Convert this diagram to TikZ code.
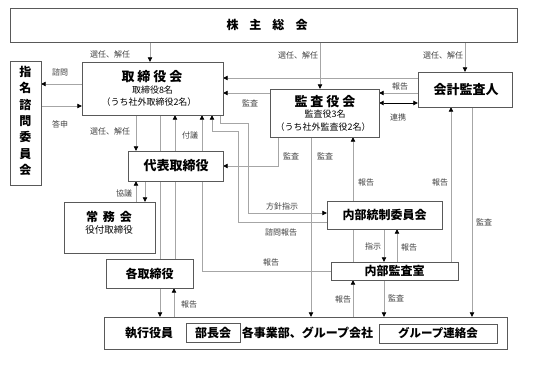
\documentclass[tikz,border=0pt]{standalone}
\usepackage{fontspec}
\setmainfont{Noto Sans CJK JP}
\usetikzlibrary{arrows.meta}
\tikzset{
  box/.style={draw=black!65, line width=0.8pt, fill=white, inner sep=0pt},
  conn/.style={draw=black!35, line width=0.7pt},
  arr/.style={conn, -{Triangle[length=4.5pt,width=4.5pt,color=black]}},
  darr/.style={draw=black, line width=0.8pt, {Triangle[length=4.5pt,width=4.5pt]}-{Triangle[length=4.5pt,width=4.5pt]}},
  lbl/.style={font=\fontsize{8}{9}\selectfont, text=black!75, inner sep=0pt},
  ttl/.style={font=\bfseries\fontsize{12}{14}\selectfont, inner sep=0pt},
  big/.style={font=\bfseries\fontsize{13}{15}\selectfont, inner sep=0pt},
  sub/.style={font=\fontsize{9}{11}\selectfont, inner sep=0pt},
}
\begin{document}
\begin{tikzpicture}[x=1pt,y=-1pt]
\useasboundingbox (0,0) rectangle (549,371);
\coordinate (bend1) at (238,131);
\coordinate (bend2) at (248,123);
\path
  (263.5,25) node[minimum width=507pt, minimum height=34pt, inner sep=0pt] (sh) {}
  (25.5,123) node[minimum width=31pt, minimum height=124pt, inner sep=0pt] (nom) {}
  (152.5,88.5) node[minimum width=141pt, minimum height=53pt, inner sep=0pt] (bod) {}
  (324.5,113) node[minimum width=109pt, minimum height=48pt, inner sep=0pt] (kab) {}
  (465,89.5) node[minimum width=94pt, minimum height=35pt, inner sep=0pt] (acc) {}
  (175.5,166) node[minimum width=95pt, minimum height=30pt, inner sep=0pt] (ceo) {}
  (109.5,227.5) node[minimum width=91pt, minimum height=51pt, inner sep=0pt] (jom) {}
  (149.5,273.5) node[minimum width=87pt, minimum height=29pt, inner sep=0pt] (each) {}
  (305.5,333) node[minimum width=403pt, minimum height=32pt, inner sep=0pt] (exe) {}
  (384.5,215) node[minimum width=115pt, minimum height=28pt, inner sep=0pt] (icc) {}
  (394.5,271) node[minimum width=127pt, minimum height=18pt, inner sep=0pt] (iad) {};

\draw[arr] (sh.south -| 150,0) -- (bod.north -| 150,0);
\draw[arr] (sh.south -| 320,0) -- (kab.north -| 320,0);
\draw[arr] (sh.south -| acc.north) -- (acc.north);
\draw[arr] (bod.west |- 0,84) -- (nom.east |- 0,84);
\draw[arr] (nom.east |- 0,106) -- (bod.west |- 0,106);
\draw[arr] (acc.west |- 0,78) -- (bod.east |- 0,78);
\draw[arr] (kab.west |- 0,93) -- (bod.east |- 0,93);
\draw[arr] (acc.west |- 0,93) -- (kab.east |- 0,93);
\draw[darr] (kab.east |- 0,103) -- (acc.west |- 0,103);
\draw[arr] (bod.south -| 136,0) -- (ceo.north -| 136,0);
\draw[conn] (bod.south -| 160,0) -- (each.north -| 160,0);
\draw[arr] (each.north -| 175,0) -- (bod.south -| 175,0);
\draw[arr] (iad.west) -| (bod.south -| 202,0);
\draw[arr] (icc.west |- 0,222) -| (bend1) -| (bod.south -| 212,0);
\draw[arr] (bod.south -| 220,0) |- (bend2) |- (icc.west |- 0,213);
\draw[arr] (kab.south -| 278,0) |- (ceo.east);
\draw[arr] (kab.south -| 311,0) -- (exe.north -| 311,0);
\draw[arr] (iad.north -| 353,0) -- (kab.south -| 353,0);
\draw[arr] (exe.north -| 353,0) -- (iad.south -| 353,0);
\draw[arr] (icc.south -| 384,0) -- (iad.north -| 384,0);
\draw[arr] (iad.north -| 397,0) -- (icc.south -| 397,0);
\draw[arr] (iad.south -| 384,0) -- (exe.north -| 384,0);
\draw[arr] (iad.north -| 451,0) -- (acc.south -| 451,0);
\draw[arr] (acc.south -| 472,0) -- (exe.north -| 472,0);
\draw[arr] (jom.north -| 136,0) -- (ceo.south -| 136,0);
\draw[arr] (ceo.south -| 145,0) -- (jom.north -| 145,0);
\draw[arr] (each.south -| 160,0) -- (exe.north -| 160,0);
\draw[arr] (exe.north -| 174,0) -- (each.south -| 174,0);

\node[box, minimum width=507pt, minimum height=34pt] (shb) at (sh) {};
\node[box, minimum width=31pt, minimum height=124pt] (nomb) at (nom) {};
\node[box, minimum width=141pt, minimum height=53pt] (bodb) at (bod) {};
\node[box, minimum width=109pt, minimum height=48pt] (kabb) at (kab) {};
\node[box, minimum width=94pt, minimum height=35pt] (accb) at (acc) {};
\node[box, minimum width=95pt, minimum height=30pt] (ceob) at (ceo) {};
\node[box, minimum width=91pt, minimum height=51pt] (jomb) at (jom) {};
\node[box, minimum width=87pt, minimum height=29pt] (eachb) at (each) {};
\node[box, minimum width=403pt, minimum height=32pt] (exeb) at (exe) {};
\node[box, minimum width=115pt, minimum height=28pt] (iccb) at (icc) {};
\node[box, minimum width=127pt, minimum height=18pt] (iadb) at (iad) {};
\node[box, minimum width=54pt, minimum height=19pt, ttl] (bucho) at (213,332.5) {部長会};
\node[box, minimum width=118pt, minimum height=19pt, font=\bfseries\fontsize{11.5}{13}\selectfont] (grp) at (438,333.5) {グループ連絡会};

\node[ttl] (sht) at (267,25) {株\hspace{11pt}主\hspace{11pt}総\hspace{11pt}会};
\node[ttl, align=center, font=\bfseries\fontsize{12}{16.3}\selectfont] (nomt) at (25.5,121) {指\\名\\諮\\問\\委\\員\\会};
\node[big] (bodt) at (152,77) {取\hspace{3pt}締\hspace{3pt}役\hspace{3pt}会};
\node[sub] (bods1) at (152.5,90) {取締役8名};
\node[sub] (bods2) at (149,102) {（うち社外取締役2名）};
\node[big] (kabt) at (325,102) {監\hspace{3pt}査\hspace{3pt}役\hspace{3pt}会};
\node[sub] (kabs1) at (325,114) {監査役3名};
\node[sub] (kabs2) at (323,127) {（うち社外監査役2名）};
\node[big] (acct) at (466,90) {会計監査人};
\node[big] (ceot) at (176,166) {代表取締役};
\node[ttl] (jomt) at (109,217) {常\hspace{5pt}務\hspace{5pt}会};
\node[sub, font=\fontsize{9.5}{11}\selectfont] (joms) at (109,230) {役付取締役};
\node[ttl] (eacht) at (149.5,273.5) {各取締役};
\node[ttl] (ict) at (384.5,215) {内部統制委員会};
\node[ttl] (iadt) at (394.5,271) {内部監査室};
\node[ttl] (exet) at (149,333) {執行役員};
\node[ttl] (exet2) at (307.5,333) {各事業部、グループ会社};

\node[lbl] (l1) at (110,54) {選任、解任};
\node[lbl] (l2) at (298,55) {選任、解任};
\node[lbl] (l3) at (443,55) {選任、解任};
\node[lbl] (l4) at (60,72) {諮問};
\node[lbl] (l5) at (60,124) {答申};
\node[lbl] (l6) at (400,86) {報告};
\node[lbl] (l7) at (398,117) {連携};
\node[lbl] (l8) at (250,103) {監査};
\node[lbl] (l9) at (110,131) {選任、解任};
\node[lbl] (l10) at (190,135) {付議};
\node[lbl] (l11) at (291,156) {監査};
\node[lbl] (l12) at (325,156) {監査};
\node[lbl] (l13) at (366,182) {報告};
\node[lbl] (l14) at (440,182) {報告};
\node[lbl] (l15) at (484,222) {監査};
\node[lbl] (l16) at (282,206) {方針指示};
\node[lbl] (l17) at (281,232) {諮問報告};
\node[lbl] (l18) at (271,262) {報告};
\node[lbl] (l19) at (124,193) {協議};
\node[lbl] (l20) at (373,246) {指示};
\node[lbl] (l21) at (409,247) {報告};
\node[lbl] (l22) at (343,299) {報告};
\node[lbl] (l23) at (396,298) {監査};
\node[lbl] (l24) at (189,304) {報告};
\end{tikzpicture}
\end{document}
